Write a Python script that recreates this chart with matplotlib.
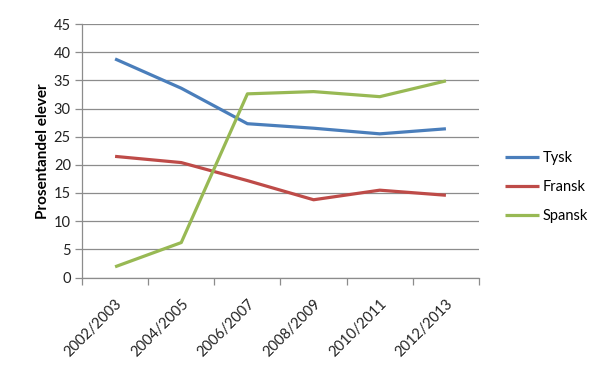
import matplotlib
matplotlib.use("Agg")
import matplotlib.pyplot as plt
import numpy as np

categories = ["2002/2003", "2004/2005", "2006/2007", "2008/2009", "2010/2011", "2012/2013"]
tysk = [38.8, 33.6, 27.3, 26.5, 25.5, 26.4]
fransk = [21.5, 20.4, 17.2, 13.8, 15.5, 14.6]
spansk = [1.9, 6.2, 32.6, 33.0, 32.1, 34.9]
yticks = [0, 5, 10, 15, 20, 25, 30, 35, 40, 45]

plt.rcParams['font.family'] = ['Lato', 'DejaVu Sans']

fig = plt.figure(figsize=(6.13, 3.72), dpi=100)
ax = fig.add_axes([82/613, 1-277.5/372, (479-82)/613, (277.5-24)/372])

x = np.arange(len(categories))
ax.plot(x, tysk, color="#4A7EBB", lw=2.3, label="Tysk", solid_capstyle='butt')
ax.plot(x, fransk, color="#BE4B48", lw=2.3, label="Fransk", solid_capstyle='butt')
ax.plot(x, spansk, color="#98B954", lw=2.3, label="Spansk", solid_capstyle='butt')

ax.set_xlim(-0.5, len(categories) - 0.5)
ax.set_ylim(0, 45)
ax.set_yticks(yticks)
ax.set_yticklabels([str(v) for v in yticks], fontsize=10.5, color="#222222")
ax.yaxis.grid(True, color="#8c8c8c", lw=0.9)
ax.set_axisbelow(True)

ax.set_xticks(np.arange(-0.5, len(categories), 1.0))
ax.set_xticklabels([])
ax.set_xticks(x, minor=True)
ax.set_xticklabels(categories, minor=True, rotation=45, ha='right', rotation_mode='anchor', fontsize=10.5, color="#222222")
ax.tick_params(axis='x', which='major', length=5, color="#8c8c8c", width=0.9)
ax.tick_params(axis='x', which='minor', length=0, pad=14)
ax.tick_params(axis='y', length=5, color="#8c8c8c", width=0.9, pad=3)

for s in ["top", "right"]:
    ax.spines[s].set_visible(False)
for s in ["left", "bottom"]:
    ax.spines[s].set_color("#8c8c8c")
    ax.spines[s].set_linewidth(0.9)

ax.set_ylabel("Prosentandel elever", fontsize=11, fontweight='bold', labelpad=3)

fig.legend(loc='center left', bbox_to_anchor=(492/613, 1-187/372), frameon=False,
           fontsize=10.5, handlelength=2.3, handletextpad=0.3, labelspacing=1.05)

fig.savefig("out.png", dpi=100)
